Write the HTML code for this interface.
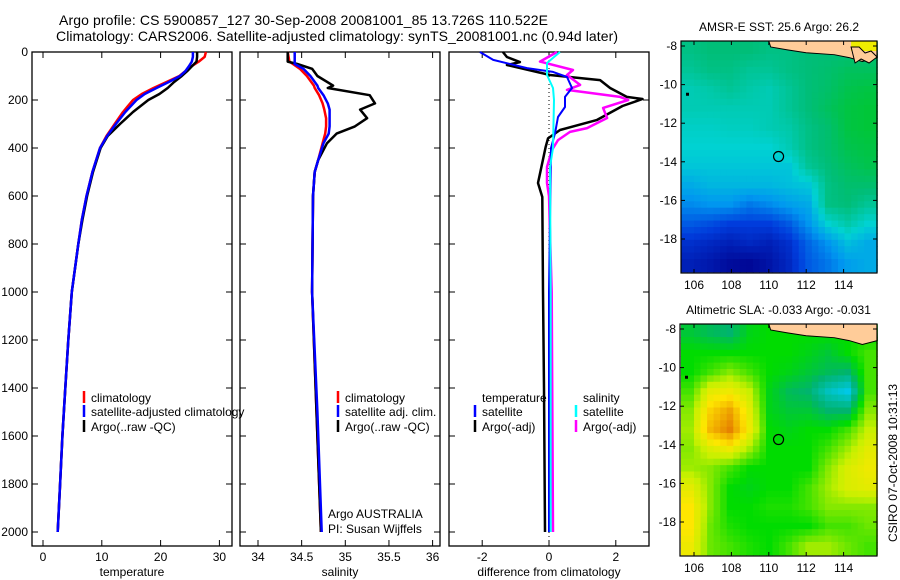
<!DOCTYPE html>
<html><head><meta charset="utf-8"><style>
body{margin:0;background:#fff;}
svg{display:block;font-family:"Liberation Sans",sans-serif;}
text{fill:#000;}
</style></head><body>
<svg id="fig" width="900" height="580" viewBox="0 0 900 580">
<text x="59" y="25" font-size="14" textLength="489">Argo profile: CS 5900857_127 30-Sep-2008 20081001_85 13.726S 110.522E</text>
<text x="56" y="41" font-size="14" textLength="562">Climatology: CARS2006. Satellite-adjusted climatology: synTS_20081001.nc (0.94d later)</text>
<g id="g"></g>
</svg>
<script>
// ---- data ----
const depths=[0,20,40,60,80,100,125,150,175,200,250,300,350,400,500,600,700,800,1000,1200,1400,1600,1800,2000];
const tempArgo=[26.2,26.2,26.1,25.3,24.5,23.6,22.3,21.2,19.8,17.9,15.3,13.1,11.0,9.8,8.5,7.5,6.7,6.0,4.9,4.3,3.8,3.3,2.9,2.5];
const tempClim=[27.7,27.5,26.5,25.2,24.2,23.2,21.0,18.8,16.8,15.3,13.6,12.2,10.8,9.7,8.4,7.4,6.6,6.0,4.9,4.3,3.8,3.3,2.9,2.5];
const tempSat=[25.5,25.5,25.3,24.8,24.2,23.3,21.4,19.3,17.3,15.9,14.0,12.4,10.9,9.7,8.4,7.4,6.6,6.0,4.9,4.3,3.8,3.3,2.9,2.5];
const salDepths=[0,40,50,70,100,140,150,180,214,240,276,310,340,380,450,500,600,1000,1500,2000];
const salArgo=[34.34,34.34,34.45,34.62,34.68,34.86,34.80,35.28,35.34,35.17,35.25,35.11,34.90,34.79,34.69,34.65,34.63,34.62,34.67,34.72];
const salClim=[34.34,34.36,34.40,34.48,34.56,34.64,34.65,34.70,34.74,34.76,34.78,34.78,34.77,34.74,34.69,34.65,34.63,34.62,34.67,34.72];
const salSat=[34.42,34.42,34.42,34.52,34.60,34.68,34.69,34.75,34.80,34.82,34.82,34.82,34.81,34.75,34.69,34.65,34.63,34.62,34.68,34.73];
const dTDepthsA=[0,21,42,54,96,117,150,187,196,225,283,325,360,395,546,604,1000,1400,2000];
const dTArgo=[-1.38,-1.26,-0.87,-1.26,0.03,1.53,1.83,2.33,2.8,2.2,1.44,0.33,-0.03,-0.1,-0.33,-0.2,-0.18,-0.15,-0.12];
const dTDepthsS=[0,33,67,83,104,150,187,229,271,339,400,1000,2000];
const dTSat=[-2.07,-1.67,-0.66,0.12,0.54,0.69,0.48,0.48,0.27,0.18,0.06,0.0,0.0];
const dSDepthsS=[0,46,96,150,200,400,479,1000,2000];
const dSSat=[0.33,-0.06,-0.06,0.12,0.15,0.12,0.03,0.05,0.05];
const dSDepthsA=[0,40,75,96,137,158,187,200,233,275,317,333,367,408,479,546,600,754,1000,2000];
const dSArgo=[0.24,-0.27,0.72,0.54,0.93,0.54,2.13,2.37,1.62,1.74,1.14,0.63,0.27,0.09,-0.06,-0.06,0,0.03,0.08,0.12];
const depthTicks=[0,200,400,600,800,1000,1200,1400,1600,1800,2000];
const tempTicks=[0,10,20,30];
const salTicks=[34,34.5,35,35.5,36];
const salTickLabels=["34","34.5","35","35.5","36"];
const diffTicks=[-2,0,2];
const sstGrid=[
[0.58,0.6,0.6,0.6,0.58,0.58,0.6,0.6,0.6,0.6],
[0.55,0.58,0.58,0.55,0.55,0.58,0.6,0.62,0.65,0.65],
[0.5,0.52,0.55,0.52,0.5,0.55,0.6,0.63,0.68,0.7],
[0.5,0.5,0.5,0.5,0.5,0.55,0.6,0.65,0.7,0.72],
[0.47,0.47,0.48,0.48,0.5,0.52,0.58,0.62,0.7,0.72],
[0.45,0.45,0.45,0.45,0.45,0.5,0.58,0.62,0.68,0.7],
[0.42,0.42,0.42,0.42,0.42,0.42,0.55,0.6,0.65,0.68],
[0.35,0.38,0.38,0.38,0.38,0.4,0.42,0.58,0.62,0.62],
[0.28,0.3,0.3,0.25,0.28,0.32,0.35,0.58,0.6,0.55],
[0.2,0.18,0.15,0.15,0.15,0.2,0.3,0.45,0.52,0.45],
[0.12,0.1,0.08,0.1,0.08,0.12,0.22,0.3,0.4,0.35],
[0.08,0.06,0.03,0.02,0.05,0.1,0.2,0.25,0.32,0.35]];
const slaGrid=[
[0.45,0.42,0.4,0.48,0.5,0.5,0.5,0.5,0.5,0.5],
[0.5,0.5,0.5,0.5,0.5,0.5,0.48,0.45,0.5,0.55],
[0.5,0.55,0.6,0.55,0.5,0.48,0.45,0.42,0.4,0.55],
[0.55,0.7,0.72,0.65,0.48,0.42,0.4,0.3,0.25,0.55],
[0.6,0.78,0.85,0.7,0.48,0.45,0.45,0.4,0.4,0.6],
[0.62,0.82,0.9,0.72,0.5,0.48,0.5,0.5,0.55,0.65],
[0.6,0.68,0.72,0.62,0.5,0.5,0.5,0.55,0.62,0.7],
[0.62,0.6,0.55,0.5,0.5,0.5,0.5,0.6,0.68,0.72],
[0.7,0.6,0.5,0.48,0.5,0.5,0.55,0.62,0.68,0.7],
[0.75,0.6,0.5,0.5,0.52,0.52,0.55,0.6,0.6,0.6],
[0.75,0.58,0.52,0.5,0.5,0.5,0.5,0.55,0.55,0.58],
[0.72,0.58,0.55,0.52,0.5,0.55,0.62,0.62,0.58,0.55]];
const lonTicks=[106,108,110,112,114];
const latTicks=[-8,-10,-12,-14,-16,-18];
const argoLon=110.522, argoLat=-13.726;

// ---- helpers ----
const NS="http://www.w3.org/2000/svg";
const G=document.getElementById('g');
function mk(tag,attrs,parent){const e=document.createElementNS(NS,tag);for(const k in attrs)e.setAttribute(k,attrs[k]);(parent||G).appendChild(e);return e;}
function txt(x,y,s,size,anchor,name){const t=mk('text',{x:x,y:y,'font-size':size,'text-anchor':anchor||'start'});t.textContent=s;


return t;}
const yD=d=>52+d*0.24;
const TOP=52,BOT=546;
const panels=[
 {name:'temperature',l:32,r:232,x:v=>43+v*5.88},
 {name:'salinity',l:240,r:440,x:v=>258+(v-34)*87.3},
 {name:'difference',l:449,r:649,x:v=>549+v*33.4}];
function box(p){
 const r=mk('rect',{x:p.l,y:TOP,width:p.r-p.l,height:BOT-TOP,fill:'none',stroke:'#000','stroke-width':1.3});
 
 
 depthTicks.forEach(d=>{const y=yD(d);
  mk('line',{x1:p.l,x2:p.l+6,y1:y,y2:y,stroke:'#000'});mk('line',{x1:p.r,x2:p.r-6,y1:y,y2:y,stroke:'#000'});});
}
function line(xs,ds,xf,color,w,name){
 const pts=xs.map((v,i)=>xf(v).toFixed(1)+','+yD(ds[i]).toFixed(1)).join(' ');
 const pl=mk('polyline',{points:pts,fill:'none',stroke:color,'stroke-width':w,'stroke-linejoin':'round'});
 
 
}
function xticks(p,ticks,labels,title){
 ticks.forEach((t,i)=>{const x=p.x(t);
  mk('line',{x1:x,x2:x,y1:BOT,y2:BOT-6,stroke:'#000'});mk('line',{x1:x,x2:x,y1:TOP,y2:TOP+6,stroke:'#000'});
  txt(x,561,labels[i],12,'middle',p.name+'-x-tick-label');});
 txt((p.l+p.r)/2,576,title,12,'middle',p.name+'-x-axis-title');
}
panels.forEach(box);
depthTicks.forEach(d=>txt(28,yD(d)+4,String(d),12,'end','depth-tick-label'));
const P1=panels[0],P2=panels[1],P3=panels[2];
xticks(P1,tempTicks,tempTicks.map(String),'temperature');
xticks(P2,salTicks,salTickLabels,'salinity');
xticks(P3,diffTicks,diffTicks.map(String),'difference from climatology');
const zl=mk('line',{x1:P3.x(0),x2:P3.x(0),y1:TOP,y2:BOT,stroke:'#000','stroke-dasharray':'1,3'});


line(tempClim,depths,P1.x,'#f00',2.5,'temp-climatology-line');
line(tempArgo,depths,P1.x,'#000',2.5,'temp-argo-line');
line(tempSat,depths,P1.x,'#00f',2.5,'temp-satellite-line');
line(salClim,salDepths,P2.x,'#f00',2.5,'sal-climatology-line');
line(salArgo,salDepths,P2.x,'#000',2.5,'sal-argo-line');
line(salSat,salDepths,P2.x,'#00f',2.5,'sal-satellite-line');
line(dTArgo,dTDepthsA,P3.x,'#000',2.5,'diff-temp-argo-line');
line(dSArgo,dSDepthsA,P3.x,'#f0f',2.5,'diff-sal-argo-line');
line(dTSat,dTDepthsS,P3.x,'#00f',2,'diff-temp-satellite-line');
line(dSSat,dSDepthsS,P3.x,'#0ff',2,'diff-sal-satellite-line');
function leg(x,y,color,s,name){
 if(color){const m=mk('line',{x1:x,x2:x,y1:y-11,y2:y+1,stroke:color,'stroke-width':2.5});
 
 }
 txt(x+7,y,s,12,'start',name);
}
leg(84,402,'#f00','climatology','legend-temp-climatology');
leg(84,416,'#00f','satellite-adjusted climatology','legend-temp-satellite');
leg(84,431,'#000','Argo(..raw -QC)','legend-temp-argo');
leg(338,402,'#f00','climatology','legend-sal-climatology');
leg(338,416,'#00f','satellite adj. clim.','legend-sal-satellite');
leg(338,431,'#000','Argo(..raw -QC)','legend-sal-argo');
txt(482,402,'temperature',12,'start','legend-temperature-header');
leg(475,416,'#00f','satellite','legend-diff-temp-satellite');
leg(475,431,'#000','Argo(-adj)','legend-diff-temp-argo');
txt(583,402,'salinity',12,'start','legend-salinity-header');
leg(576,416,'#0ff','satellite','legend-diff-sal-satellite');
leg(576,431,'#f0f','Argo(-adj)','legend-diff-sal-argo');
txt(328,518,'Argo AUSTRALIA',12,'start','argo-country-label');
txt(328,533,'PI: Susan Wijffels',12,'start','pi-label');
// ---- maps ----
function interp(stops,v){v=Math.max(0,Math.min(1,v));for(let i=1;i<stops.length;i++){if(v<=stops[i][0]){const a=stops[i-1],b=stops[i],f=(v-a[0])/(b[0]-a[0]);
 return 'rgb('+[1,2,3].map(k=>Math.round(a[k]+f*(b[k]-a[k]))).join(',')+')';}}const s=stops[stops.length-1];return 'rgb('+s[1]+','+s[2]+','+s[3]+')';}
const sstStops=[[0,0,0,140],[0.15,0,60,220],[0.3,0,150,240],[0.45,0,210,210],[0.6,0,190,120],[0.75,0,200,40],[0.85,230,240,0],[1,255,150,0]];
const slaStops=[[0,0,90,255],[0.25,0,200,230],[0.4,0,180,110],[0.5,0,220,0],[0.65,200,240,0],[0.75,255,230,0],[0.9,230,130,0],[1,220,100,0]];
function sample(grid,fr,fc){
 const nr=grid.length,nc=grid[0].length;
 let r=fr-0.5,c=fc-0.5;r=Math.max(0,Math.min(nr-1,r));c=Math.max(0,Math.min(nc-1,c));
 const r0=Math.floor(r),c0=Math.floor(c),r1=Math.min(nr-1,r0+1),c1=Math.min(nc-1,c0+1),dr=r-r0,dc=c-c0;
 return grid[r0][c0]*(1-dr)*(1-dc)+grid[r0][c1]*(1-dr)*dc+grid[r1][c0]*dr*(1-dc)+grid[r1][c1]*dr*dc;
}
function map(m){
 const lonX=lon=>m.x0+(lon-106)*18.7, latY=lat=>m.y8+(-8-lat)*19.3;
 const lon0=105.3,lon1=115.8,lat0=-7.75,lat1=-19.7;
 const nr=m.grid.length,nc=m.grid[0].length,S=m.sub;
 for(let r=0;r<nr*S;r++)for(let c=0;c<nc*S;c++){
  const v=sample(m.grid,(r+0.5)/S,(c+0.5)/S);
  const x=lonX(lon0+(lon1-lon0)*c/(nc*S)), x2=lonX(lon0+(lon1-lon0)*(c+1)/(nc*S));
  const y=latY(lat0+(lat1-lat0)*r/(nr*S)), y2=latY(lat0+(lat1-lat0)*(r+1)/(nr*S));
  const cell=mk('rect',{x:x.toFixed(1),y:y.toFixed(1),width:(x2-x+0.6).toFixed(1),height:(y2-y+0.6).toFixed(1),fill:interp(m.stops,v)});
  
  
 }
 const land=mk('path',{d:'M'+lonX(110.0)+','+m.top+' L'+lonX(110.1)+','+latY(-8.05)+' L'+lonX(111)+','+latY(-8.2)+' L'+lonX(112)+','+latY(-8.35)+' L'+lonX(113.5)+','+latY(-8.45)+' L'+lonX(114.3)+','+latY(-8.6)+' L'+lonX(115)+','+latY(-8.8)+' L'+lonX(115.8)+','+latY(-8.6)+' L'+m.r+','+m.top+' Z',fill:'#fc9',stroke:'#000','stroke-width':1});
 
 
 if(m.yellow){const yl=mk('rect',{x:lonX(114.4),y:m.top,width:m.r-lonX(114.4),height:10,fill:'#ee0'});
 
 
 mk('path',{d:'M'+lonX(114.4)+','+(m.top+6)+' l8,0 l6,6 l6,-2 l6,6 l-8,6 l-8,-4 l-6,4 Z',fill:'#fc9',stroke:'#000','stroke-width':1});}
 const dot=mk('rect',{x:m.l+5,y:latY(-10.5)-1.5,width:3,height:3,fill:'#000'});
 
 
 const b=mk('rect',{x:m.l,y:m.top,width:m.r-m.l,height:m.bot-m.top,fill:'none',stroke:'#000','stroke-width':1.2});
 
 
 lonTicks.forEach(t=>{const x=lonX(t);mk('line',{x1:x,x2:x,y1:m.bot,y2:m.bot-4,stroke:'#000'});mk('line',{x1:x,x2:x,y1:m.top,y2:m.top+4,stroke:'#000'});
  txt(x,m.bot+16,String(t),12,'middle',m.name+'-lon-tick-label');});
 latTicks.forEach(t=>{const y=latY(t);mk('line',{x1:m.l,x2:m.l+4,y1:y,y2:y,stroke:'#000'});mk('line',{x1:m.r,x2:m.r-4,y1:y,y2:y,stroke:'#000'});
  txt(m.l-4,y+4,String(t),12,'end',m.name+'-lat-tick-label');});
 const c=mk('circle',{cx:lonX(argoLon),cy:latY(argoLat),r:5,fill:'none',stroke:'#000','stroke-width':1.2});
 
 
 txt((m.l+m.r)/2,m.top-10,m.title,12,'middle',m.name+'-title');
}
map({name:'sst-map',grid:sstGrid,stops:sstStops,x0:694,y8:46,l:681,r:877,top:41,bot:273,title:'AMSR-E SST: 25.6 Argo: 26.2',yellow:true,sub:3});
map({name:'sla-map',grid:slaGrid,stops:slaStops,x0:694,y8:329,l:680,r:877,top:324,bot:556,title:'Altimetric SLA: -0.033 Argo: -0.031',yellow:false,sub:3});
const cs=txt(0,0,'CSIRO 07-Oct-2008 10:31:13',12,'middle','timestamp-label');
cs.setAttribute('transform','translate(897,463) rotate(-90)');
</script>
</body></html>
